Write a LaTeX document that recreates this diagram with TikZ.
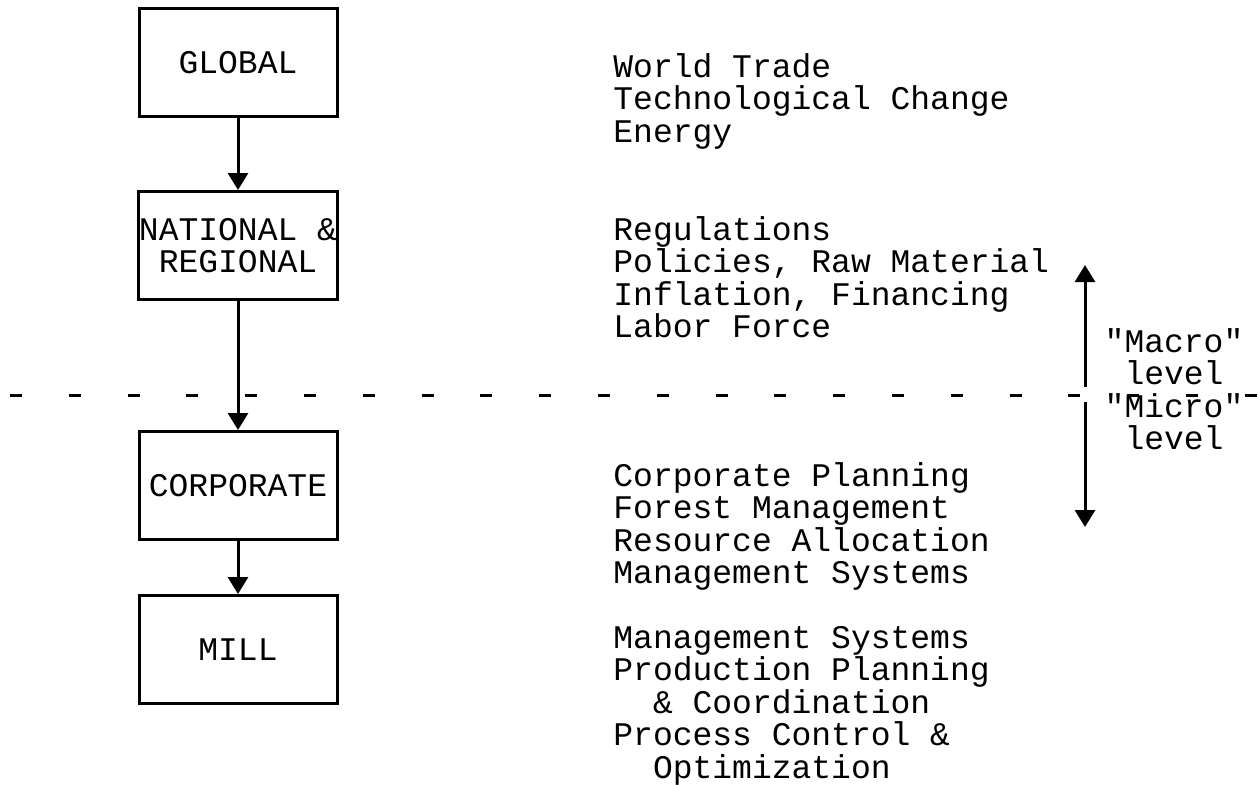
\documentclass[tikz,border=0pt]{standalone}
\usepackage{fontspec}
\setmonofont{Liberation Mono}
\usetikzlibrary{positioning,arrows.meta}

\begin{document}
\begin{tikzpicture}[x=0.5pt,y=-0.5pt,
  every node/.style={font=\ttfamily\fontsize{16.5}{16.25}\selectfont},
  tier/.style={draw,line width=1.5pt,minimum width=99pt,minimum height=54pt,inner sep=0pt,align=center},
  link/.style={line width=1.5pt,-{Triangle[width=10pt,length=8.5pt]}},
  factors/.style={anchor=base west,align=left,inner sep=0pt},
  scopelabel/.style={anchor=base,align=center,inner sep=0pt}]
\useasboundingbox (0,0) rectangle (1258,784);
\node[tier] (global) at (238,62.5) {GLOBAL};
\node[tier,below=36pt of global] (national) {NATIONAL \&\\REGIONAL};
\node[tier,below=64.5pt of national] (corporate) {CORPORATE};
\node[tier,below=26.5pt of corporate] (mill) {MILL};
\draw[link] (global) -- (national);
\draw[link] (national) -- (corporate);
\draw[link] (corporate) -- (mill);
\node[factors] (globaltxt) at (613,142) {World Trade\\Technological Change\\Energy};
\node[factors] (nationaltxt) at (613,337.5) {Regulations\\Policies, Raw Material\\Inflation, Financing\\Labor Force};
\node[factors] (corporatetxt) at (613,583.5) {Corporate Planning\\Forest Management\\Resource Allocation\\Management Systems};
\node[factors] (milltxt) at (613,778) {Management Systems\\Production Planning\\\ \ \& Coordination\\Process Control \&\\\ \ Optimization};
\coordinate (divleft) at (10,395);
\coordinate (divright) at (1258,395);
\draw[line width=1.5pt,dash pattern=on 6pt off 23.4pt] (divleft) -- (divright);
\coordinate (macrotop) at (1085,265);
\coordinate (splitup) at (1085,387);
\coordinate (splitdown) at (1085,402);
\coordinate (microbot) at (1085,527);
\draw[link] (splitup) -- (macrotop);
\draw[link] (splitdown) -- (microbot);
\node[scopelabel] (macro) at (1174,384.5) {"Macro"\\level};
\node[scopelabel] (micro) at (1174,449.5) {"Micro"\\level};
\end{tikzpicture}
\end{document}
